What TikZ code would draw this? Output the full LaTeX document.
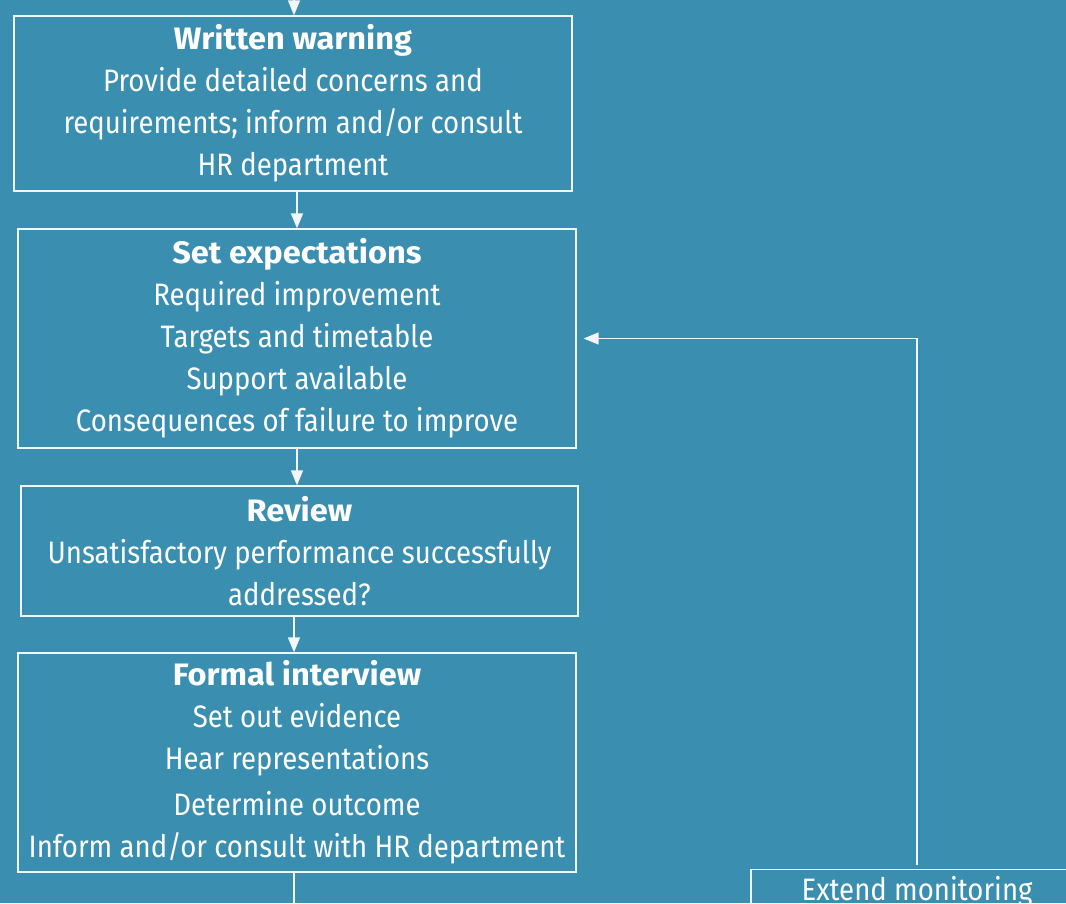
\documentclass[tikz,border=0pt]{standalone}
\usepackage{fontspec}
\setmainfont[FakeStretch=0.89, BoldFeatures={FakeStretch=1.05}]{Fira Sans}
\usetikzlibrary{arrows.meta,calc}
\definecolor{bg}{RGB}{58,143,177}
\definecolor{ln}{RGB}{240,246,250}
\tikzset{
  stepbox/.style={draw=ln, line width=1.3pt, text=white, align=center, inner sep=0pt,
    font={\fontsize{31}{42}\selectfont}},
  arr/.style={draw=ln, line width=1.4pt, -{Triangle[length=15pt,width=12pt]}},
  plain/.style={draw=ln, line width=1.4pt}
}
\begin{document}
\begin{tikzpicture}[x=1pt,y=-1pt]
\useasboundingbox (0,0) rectangle (1066,903);
\fill[bg] (0,0) rectangle (1066,903);
\clip (0,0) rectangle (1066,903);
\node[stepbox, minimum width=558pt, minimum height=175pt] (ww) at (293,103.5)
  {\textbf{Written warning}\\Provide detailed concerns and\\requirements; inform and/or consult\\HR department};
\node[stepbox, minimum width=558pt, minimum height=219pt] (se) at (297,338.5)
  {\textbf{Set expectations}\\Required improvement\\Targets and timetable\\Support available\\Consequences of failure to improve};
\node[stepbox, minimum width=557pt, minimum height=130pt] (rev) at (299.5,551)
  {\textbf{Review}\\Unsatisfactory performance successfully\\addressed?};
\node[stepbox, minimum width=558pt, minimum height=219pt] (fi) at (297,762.5)
  {\textbf{Formal interview}\\Set out evidence\\Hear representations\\[4pt]Determine outcome\\Inform and/or consult with HR department};
\node[stepbox, minimum width=332pt, minimum height=80pt, anchor=north] (em) at (917,869)
  {Extend monitoring\\\phantom{X}};
\coordinate (topin) at (294,-30);
\coordinate (fiout) at (294,930);
\draw[arr] (topin) -- (topin |- ww.north);
\draw[arr] (se.north |- ww.south) -- (se.north);
\draw[arr] (se.south) -- (se.south |- rev.north);
\draw[arr] (fiout |- rev.south) -- (fiout |- fi.north);
\draw[plain] (fiout |- fi.south) -- (fiout);
\draw[arr, shorten <=4pt, shorten >=7pt] (em.north) |- (se.east);
\end{tikzpicture}
\end{document}
